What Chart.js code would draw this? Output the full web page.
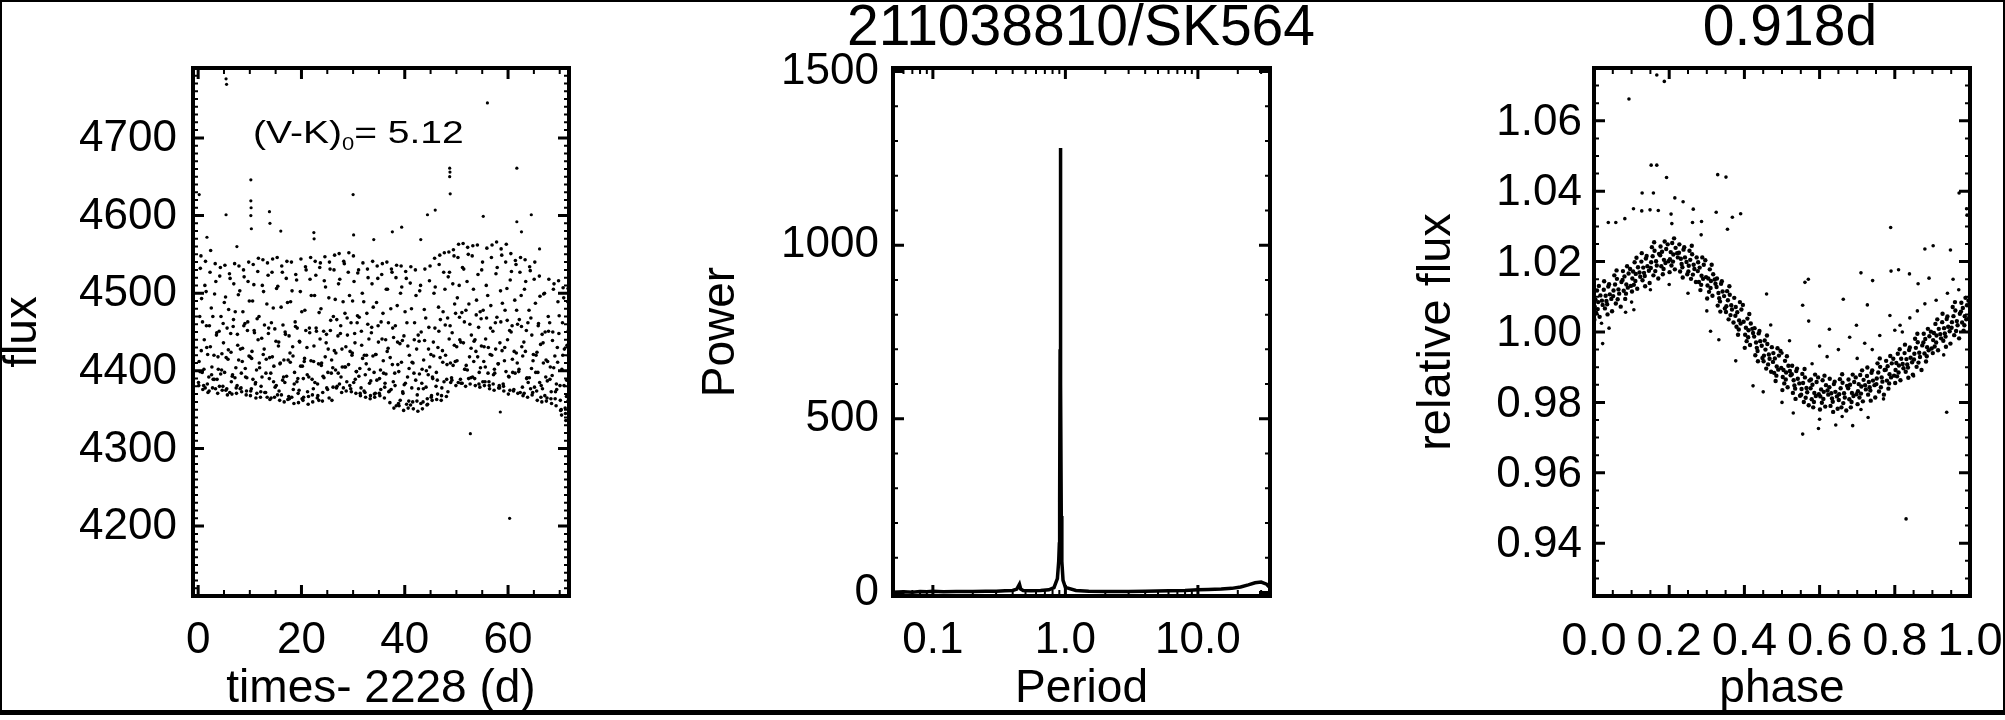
<!DOCTYPE html>
<html lang="en">
<head>
<meta charset="UTF-8" />
<title>211038810/SK564</title>
<script src="https://cdn.jsdelivr.net/npm/chart.js"></script>
<style>
  body { margin: 0; background: #fff; }
  #fig {
    position: relative;
    width: 2005px;
    height: 720px;
    overflow: hidden;
    background: #fff;
    font-family: "Liberation Sans", Arial, Helvetica, sans-serif;
    color: #000;
  }
  #fig canvas { position: absolute; top: 0; }
  .ptitle {
    position: absolute;
    top: -3px;
    font-size: 57px;
    line-height: 1;
    white-space: nowrap;
    transform: translateX(-50%);
  }
  #vk {
    position: absolute; left: 253px; top: 116px;
    font-size: 32px; line-height: 1; white-space: nowrap;
    transform: scaleX(1.22); transform-origin: left top;
  }
  #vk sub { font-size: 18px; vertical-align: -7px; }
  #edge {
    position: absolute; left: 0; top: 0;
    width: 2001px; height: 708px;
    border-style: solid; border-color: #000;
    border-width: 2px 2px 5px 2px;
    pointer-events: none;
  }
</style>
</head>
<body>
<div id="fig">
  <canvas id="lcChart" width="668" height="720" style="left:0;width:668px;height:720px"></canvas>
  <canvas id="pgChart" width="668" height="720" style="left:668px;width:668px;height:720px"></canvas>
  <canvas id="phChart" width="700" height="720" style="left:1336px;width:700px;height:720px"></canvas>
  <div class="ptitle" style="left:1081px">211038810/SK564</div>
  <div class="ptitle" style="left:1790px">0.918d</div>
  <div id="vk">(V-K)<sub>0</sub>= 5.12</div>
  <div id="edge"></div>
</div>

<script>
// ---- light curve (left panel): time - 2228 (d), flux ----
const lcTime = [
  0.06,0.18,0.30,0.42,0.54,0.66,0.78,0.90, 1.06,1.18,1.30,1.42,1.54,1.66,1.78,1.90,
  2.06,2.18,2.30,2.42,2.54,2.66,2.78,2.90, 3.06,3.18,3.30,3.42,3.54,3.66,3.78,3.90,
  4.06,4.18,4.30,4.42,4.54,4.66,4.78,4.90, 5.06,5.18,5.30,5.42,5.54,5.66,5.78,5.90,
  6.06,6.18,6.30,6.42,6.54,6.66,6.78,6.90, 7.06,7.18,7.30,7.42,7.54,7.66,7.78,7.90,
  8.06,8.18,8.30,8.42,8.54,8.66,8.78,8.90, 9.06,9.18,9.30,9.42,9.54,9.66,9.78,9.90,
  10.06,10.18,10.30,10.42,10.54,10.66,10.78,10.90, 11.06,11.18,11.30,11.42,11.54,11.66,11.78,11.90,
  12.06,12.18,12.30,12.42,12.54,12.66,12.78,12.90, 13.06,13.18,13.30,13.42,13.54,13.66,13.78,13.90,
  14.06,14.18,14.30,14.42,14.54,14.66,14.78,14.90, 15.06,15.18,15.30,15.42,15.54,15.66,15.78,15.90,
  16.06,16.18,16.30,16.42,16.54,16.66,16.78,16.90, 17.06,17.18,17.30,17.42,17.54,17.66,17.78,17.90,
  18.06,18.18,18.30,18.42,18.54,18.66,18.78,18.90, 19.06,19.18,19.30,19.42,19.54,19.66,19.78,19.90,
  20.06,20.18,20.30,20.42,20.54,20.66,20.78,20.90, 21.06,21.18,21.30,21.42,21.54,21.66,21.78,21.90,
  22.06,22.18,22.30,22.42,22.54,22.66,22.78,22.90, 23.06,23.18,23.30,23.42,23.54,23.66,23.78,23.90,
  24.06,24.18,24.30,24.42,24.54,24.66,24.78,24.90, 25.06,25.18,25.30,25.42,25.54,25.66,25.78,25.90,
  26.06,26.18,26.30,26.42,26.54,26.66,26.78,26.90, 27.06,27.18,27.30,27.42,27.54,27.66,27.78,27.90,
  28.06,28.18,28.30,28.42,28.54,28.66,28.78,28.90, 29.06,29.18,29.30,29.42,29.54,29.66,29.78,29.90,
  30.06,30.18,30.30,30.42,30.54,30.66,30.78,30.90, 31.06,31.18,31.30,31.42,31.54,31.66,31.78,31.90,
  32.06,32.18,32.30,32.42,32.54,32.66,32.78,32.90, 33.06,33.18,33.30,33.42,33.54,33.66,33.78,33.90,
  34.06,34.18,34.30,34.42,34.54,34.66,34.78,34.90, 35.06,35.18,35.30,35.42,35.54,35.66,35.78,35.90,
  36.06,36.18,36.30,36.42,36.54,36.66,36.78,36.90, 37.06,37.18,37.30,37.42,37.54,37.66,37.78,37.90,
  38.06,38.18,38.30,38.42,38.54,38.66,38.78,38.90, 39.06,39.18,39.30,39.42,39.54,39.66,39.78,39.90,
  40.06,40.18,40.30,40.42,40.54,40.66,40.78,40.90, 41.06,41.18,41.30,41.42,41.54,41.66,41.78,41.90,
  42.06,42.18,42.30,42.42,42.54,42.66,42.78,42.90, 43.06,43.18,43.30,43.42,43.54,43.66,43.78,43.90,
  44.06,44.18,44.30,44.42,44.54,44.66,44.78,44.90, 45.06,45.18,45.30,45.42,45.54,45.66,45.78,45.90,
  46.06,46.18,46.30,46.42,46.54,46.66,46.78,46.90, 47.06,47.18,47.30,47.42,47.54,47.66,47.78,47.90,
  48.06,48.18,48.30,48.42,48.54,48.66,48.78,48.90, 49.06,49.18,49.30,49.42,49.54,49.66,49.78,49.90,
  50.06,50.18,50.30,50.42,50.54,50.66,50.78,50.90, 51.06,51.18,51.30,51.42,51.54,51.66,51.78,51.90,
  52.06,52.18,52.30,52.42,52.54,52.66,52.78,52.90, 53.06,53.18,53.30,53.42,53.54,53.66,53.78,53.90,
  54.06,54.18,54.30,54.42,54.54,54.66,54.78,54.90, 55.06,55.18,55.30,55.42,55.54,55.66,55.78,55.90,
  56.06,56.18,56.30,56.42,56.54,56.66,56.78,56.90, 57.06,57.18,57.30,57.42,57.54,57.66,57.78,57.90,
  58.06,58.18,58.30,58.42,58.54,58.66,58.78,58.90, 59.06,59.18,59.30,59.42,59.54,59.66,59.78,59.90,
  60.06,60.18,60.30,60.42,60.54,60.66,60.78,60.90, 61.06,61.18,61.30,61.42,61.54,61.66,61.78,61.90,
  62.06,62.18,62.30,62.42,62.54,62.66,62.78,62.90, 63.06,63.18,63.30,63.42,63.54,63.66,63.78,63.90,
  64.06,64.18,64.30,64.42,64.54,64.66,64.78,64.90, 65.06,65.18,65.30,65.42,65.54,65.66,65.78,65.90,
  66.06,66.18,66.30,66.42,66.54,66.66,66.78,66.90, 67.06,67.18,67.30,67.42,67.54,67.66,67.78,67.90,
  68.06,68.18,68.30,68.42,68.54,68.66,68.78,68.90, 69.06,69.18,69.30,69.42,69.54,69.66,69.78,69.90,
  70.06,70.18,70.30,70.42,70.54,70.66,70.78,70.90, 71.06,71.18,71.30,71.42,71.54,71.62,71.68,71.74
];
const lcFlux = [
  4385,4412,4470,4532,4548,4493,4398,4376, 4381,4440,4510,4541,4502,4430,4383,4372,
  4392,4458,4527,4555,4481,4405,4378,4389, 4420,4499,4538,4515,4446,4389,4371,4402,
  4451,4522,4533,4470,4401,4375,4380,4436, 4488,4536,4495,4417,4377,4369,4415,4479,
  4525,4519,4448,4386,4370,4395,4457,4512, 4538,4476,4404,4371,4381,4433,4498,4535,
  4503,4428,4378,4373,4412,4476,4530,4521, 4461,4392,4369,4391,4452,4515,4540,4490,
  4418,4374,4377,4425,4490,4537,4511,4449, 4383,4365,4401,4467,4528,4545,4470,4404,
  4366,4380,4442,4510,4543,4502,4428,4372, 4372,4415,4486,4539,4523,4455,4390,4363,
  4397,4462,4527,4544,4481,4406,4366,4379, 4438,4506,4546,4509,4432,4374,4362,4410,
  4482,4535,4527,4459,4392,4360,4385,4447, 4519,4541,4488,4414,4367,4364,4423,4489,
  4540,4503,4431,4376,4358,4398,4463,4524, 4517,4455,4390,4359,4375,4437,4502,4544,
  4476,4406,4362,4366,4412,4478,4534,4530, 4430,4373,4357,4392,4455,4518,4546,4497,
  4389,4360,4377,4432,4497,4541,4523,4451, 4365,4368,4409,4475,4533,4539,4480,4410,
  4361,4393,4451,4516,4547,4508,4436,4378, 4376,4428,4494,4540,4531,4465,4397,4362,
  4404,4470,4530,4549,4492,4423,4378,4380, 4445,4512,4551,4518,4448,4392,4372,4405,
  4489,4541,4538,4474,4405,4374,4386,4446, 4527,4552,4497,4425,4377,4373,4420,4490,
  4548,4515,4448,4389,4371,4399,4462,4526, 4530,4469,4403,4368,4378,4433,4500,4539,
  4489,4420,4372,4366,4409,4474,4531,4520, 4441,4384,4364,4387,4449,4512,4541,4482,
  4398,4366,4371,4421,4488,4535,4519,4437, 4371,4368,4401,4463,4524,4538,4474,4397,
  4365,4384,4440,4505,4540,4505,4429,4373, 4374,4417,4480,4531,4527,4455,4386,4352,
  4397,4458,4520,4536,4484,4408,4358,4355, 4435,4500,4535,4508,4439,4371,4349,4382,
  4476,4528,4519,4462,4392,4352,4361,4420, 4513,4534,4480,4411,4360,4351,4397,4462,
  4530,4497,4428,4369,4348,4377,4438,4503, 4510,4450,4384,4351,4360,4414,4479,4531,
  4468,4400,4356,4357,4395,4456,4516,4535, 4421,4368,4362,4390,4437,4500,4545,4508,
  4380,4363,4388,4430,4482,4537,4549,4466, 4362,4378,4426,4476,4527,4552,4505,4420,
  4367,4408,4468,4521,4553,4527,4458,4385, 4391,4449,4512,4556,4548,4486,4412,4381,
  4431,4494,4546,4563,4510,4440,4389,4384, 4475,4533,4564,4531,4463,4402,4380,4407,
  4515,4559,4550,4486,4418,4383,4391,4446, 4548,4561,4505,4438,4390,4381,4425,4491,
  4562,4524,4456,4398,4379,4404,4467,4530, 4540,4478,4412,4381,4386,4441,4510,4558,
  4497,4430,4386,4377,4421,4484,4546,4562, 4451,4395,4375,4397,4462,4525,4566,4533,
  4409,4378,4381,4436,4503,4557,4549,4487, 4383,4374,4413,4478,4540,4563,4506,4440,
  4370,4392,4452,4517,4551,4528,4458,4398, 4374,4425,4491,4542,4537,4478,4410,4371,
  4399,4466,4527,4546,4497,4431,4379,4368, 4437,4505,4543,4515,4452,4391,4366,4385,
  4478,4534,4529,4468,4403,4369,4372,4421, 4518,4540,4487,4420,4374,4362,4398,4461,
  4522,4496,4434,4381,4360,4377,4436,4499, 4500,4450,4392,4361,4365,4412,4470,4518,
  4462,4405,4364,4358,4394,4450,4505,4512, 4419,4373,4355,4376,4430,4489,4516,4471,
  4381,4349,4350,4402,4462,4507,4494,4428, 4352,4336,4367,4433,4489,4506,4452,4381
];
// extra samples in the lower, denser half of the band
const lcLowTime = [
  0.12,0.36,0.60,0.84, 1.12,1.36,1.60,1.84, 2.12,2.36,2.60,2.84, 3.12,3.36,3.60,3.84,
  4.12,4.36,4.60,4.84, 5.12,5.36,5.60,5.84, 6.12,6.36,6.60,6.84, 7.12,7.36,7.60,7.84,
  8.12,8.36,8.60,8.84, 9.12,9.36,9.60,9.84, 10.12,10.36,10.60,10.84, 11.12,11.36,11.60,11.84,
  12.12,12.36,12.60,12.84, 13.12,13.36,13.60,13.84, 14.12,14.36,14.60,14.84, 15.12,15.36,15.60,15.84,
  16.12,16.36,16.60,16.84, 17.12,17.36,17.60,17.84, 18.12,18.36,18.60,18.84, 19.12,19.36,19.60,19.84,
  20.12,20.36,20.60,20.84, 21.12,21.36,21.60,21.84, 22.12,22.36,22.60,22.84, 23.12,23.36,23.60,23.84,
  24.12,24.36,24.60,24.84, 25.12,25.36,25.60,25.84, 26.12,26.36,26.60,26.84, 27.12,27.36,27.60,27.84,
  28.12,28.36,28.60,28.84, 29.12,29.36,29.60,29.84, 30.12,30.36,30.60,30.84, 31.12,31.36,31.60,31.84,
  32.12,32.36,32.60,32.84, 33.12,33.36,33.60,33.84, 34.12,34.36,34.60,34.84, 35.12,35.36,35.60,35.84,
  36.12,36.36,36.60,36.84, 37.12,37.36,37.60,37.84, 38.12,38.36,38.60,38.84, 39.12,39.36,39.60,39.84,
  40.12,40.36,40.60,40.84, 41.12,41.36,41.60,41.84, 42.12,42.36,42.60,42.84, 43.12,43.36,43.60,43.84,
  44.12,44.36,44.60,44.84, 45.12,45.36,45.60,45.84, 46.12,46.36,46.60,46.84, 47.12,47.36,47.60,47.84,
  48.12,48.36,48.60,48.84, 49.12,49.36,49.60,49.84, 50.12,50.36,50.60,50.84, 51.12,51.36,51.60,51.84,
  52.12,52.36,52.60,52.84, 53.12,53.36,53.60,53.84, 54.12,54.36,54.60,54.84, 55.12,55.36,55.60,55.84,
  56.12,56.36,56.60,56.84, 57.12,57.36,57.60,57.84, 58.12,58.36,58.60,58.84, 59.12,59.36,59.60,59.84,
  60.12,60.36,60.60,60.84, 61.12,61.36,61.60,61.84, 62.12,62.36,62.60,62.84, 63.12,63.36,63.60,63.84,
  64.12,64.36,64.60,64.84, 65.12,65.36,65.60,65.84, 66.12,66.36,66.60,66.84, 67.12,67.36,67.60,67.84,
  68.12,68.36,68.60,68.84, 69.12,69.36,69.60,69.84, 70.12,70.36,70.60,70.84, 71.12,71.36,71.60,71.70
];
const lcLowFlux = [
  4381,4399,4426,4463, 4402,4378,4458,4421, 4374,4431,4395,4470, 4389,4377,4449,4418,
  4380,4396,4422,4461, 4398,4375,4455,4427, 4372,4424,4393,4466, 4391,4378,4447,4414,
  4377,4397,4429,4458, 4403,4374,4463,4419, 4368,4416,4389,4452, 4385,4371,4440,4410,
  4373,4392,4421,4459, 4397,4366,4448,4417, 4365,4418,4386,4454, 4381,4369,4437,4409,
  4369,4388,4414,4450, 4393,4363,4445,4411, 4366,4419,4383,4457, 4386,4371,4438,4406,
  4364,4390,4416,4452, 4395,4367,4449,4413, 4369,4412,4385,4455, 4383,4362,4441,4407,
  4372,4391,4418,4447, 4398,4365,4452,4414, 4379,4426,4401,4466, 4397,4383,4458,4428,
  4378,4405,4431,4468, 4408,4381,4462,4423, 4385,4436,4399,4471, 4393,4371,4451,4416,
  4374,4395,4420,4460, 4402,4368,4456,4419, 4370,4421,4388,4458, 4390,4376,4441,4413,
  4379,4396,4425,4462, 4359,4376,4408,4443, 4381,4355,4437,4399, 4362,4411,4373,4445,
  4384,4357,4432,4403, 4356,4378,4410,4440, 4388,4361,4446,4396, 4358,4402,4377,4439,
  4379,4364,4428,4405, 4366,4392,4419,4455, 4398,4370,4451,4417, 4368,4411,4386,4459,
  4389,4373,4441,4410, 4388,4407,4433,4474, 4413,4385,4469,4437, 4384,4436,4402,4478,
  4401,4390,4460,4429, 4392,4412,4440,4472, 4418,4383,4476,4432, 4386,4431,4405,4468,
  4397,4381,4455,4420, 4383,4402,4428,4469, 4409,4378,4463,4426, 4380,4430,4399,4465,
  4393,4375,4450,4415, 4376,4397,4423,4460, 4402,4372,4457,4419, 4371,4425,4390,4462,
  4391,4377,4446,4413, 4379,4398,4424,4458, 4385,4366,4447,4410, 4368,4414,4387,4451,
  4389,4373,4439,4404, 4364,4383,4411,4448, 4362,4343,4420,4381, 4345,4388,4361,4419
];
// isolated points off the main band
const lcOddTime = [0.2,1.7,5.4,5.5,5.4,7.5,10.2,10.2,10.25,10.2,10.3,13.8,13.9,16.0,22.4,22.45,30.0,30.1,34.0,37.6,
  39.4,43.1,44.4,45.9,48.7,48.75,48.7,48.8,52.7,55.2,56.0,58.5,60.3,61.7,61.7,62.6,64.5,66.1];
const lcOddFlux = [4627,4572,4776,4769,4601,4560,4646,4619,4610,4600,4583,4605,4590,4580,4578,4570,4627,4575,4569,4579,
  4585,4569,4601,4607,4661,4656,4650,4628,4319,4599,4745,4347,4210,4661,4592,4579,4601,4557];

// ---- periodogram (middle panel) ----
const pgPeriod = [0.05,0.06,0.07,0.08,0.09,0.10,0.12,0.15,0.20,0.25,0.30,0.35,0.40,0.43,0.45,0.46,0.48,0.55,0.65,0.75,
  0.82,0.87,0.89,0.90,0.905,0.912,0.916,0.918,0.920,0.924,0.931,0.94,0.96,1.0,1.2,1.5,2,3,4,6,
  8,10,12,15,18,21,24,27,30,33,35];
const pgPower = [1,2,1,3,2,4,2,3,3,4,4,5,6,10,24,10,6,5,6,8,
  14,40,90,140,260,700,1180,1280,1150,600,220,90,35,15,6,4,3,3,4,5,
  6,8,9,10,12,16,22,28,30,24,14];

// ---- phase-folded light curve (right panel) ----
const phPhase = [
  0.001,0.004,0.002,0.008,0.006,0.011,0.013,0.010,0.017,0.015,0.021,0.023,
  0.026,0.029,0.027,0.033,0.031,0.036,0.038,0.035,0.042,0.040,0.046,0.048,
  0.051,0.054,0.052,0.058,0.056,0.061,0.063,0.060,0.067,0.065,0.071,0.073,
  0.076,0.079,0.077,0.083,0.081,0.086,0.088,0.085,0.092,0.090,0.096,0.098,
  0.101,0.104,0.102,0.108,0.106,0.111,0.113,0.110,0.117,0.115,0.121,0.123,
  0.126,0.129,0.127,0.133,0.131,0.136,0.138,0.135,0.142,0.140,0.146,0.148,
  0.151,0.154,0.152,0.158,0.156,0.161,0.163,0.160,0.167,0.165,0.171,0.173,
  0.176,0.179,0.177,0.183,0.181,0.186,0.188,0.185,0.192,0.190,0.196,0.198,
  0.201,0.204,0.202,0.208,0.206,0.211,0.213,0.210,0.217,0.215,0.221,0.223,
  0.226,0.229,0.227,0.233,0.231,0.236,0.238,0.235,0.242,0.240,0.246,0.248,
  0.251,0.254,0.252,0.258,0.256,0.261,0.263,0.260,0.267,0.265,0.271,0.273,
  0.276,0.279,0.277,0.283,0.281,0.286,0.288,0.285,0.292,0.290,0.296,0.298,
  0.301,0.304,0.302,0.308,0.306,0.311,0.313,0.310,0.317,0.315,0.321,0.323,
  0.326,0.329,0.327,0.333,0.331,0.336,0.338,0.335,0.342,0.340,0.346,0.348,
  0.351,0.354,0.352,0.358,0.356,0.361,0.363,0.360,0.367,0.365,0.371,0.373,
  0.376,0.379,0.377,0.383,0.381,0.386,0.388,0.385,0.392,0.390,0.396,0.398,
  0.401,0.404,0.402,0.408,0.406,0.411,0.413,0.410,0.417,0.415,0.421,0.423,
  0.426,0.429,0.427,0.433,0.431,0.436,0.438,0.435,0.442,0.440,0.446,0.448,
  0.451,0.454,0.452,0.458,0.456,0.461,0.463,0.460,0.467,0.465,0.471,0.473,
  0.476,0.479,0.477,0.483,0.481,0.486,0.488,0.485,0.492,0.490,0.496,0.498,
  0.501,0.504,0.502,0.508,0.506,0.511,0.513,0.510,0.517,0.515,0.521,0.523,
  0.526,0.529,0.527,0.533,0.531,0.536,0.538,0.535,0.542,0.540,0.546,0.548,
  0.551,0.554,0.552,0.558,0.556,0.561,0.563,0.560,0.567,0.565,0.571,0.573,
  0.576,0.579,0.577,0.583,0.581,0.586,0.588,0.585,0.592,0.590,0.596,0.598,
  0.601,0.604,0.602,0.608,0.606,0.611,0.613,0.610,0.617,0.615,0.621,0.623,
  0.626,0.629,0.627,0.633,0.631,0.636,0.638,0.635,0.642,0.640,0.646,0.648,
  0.651,0.654,0.652,0.658,0.656,0.661,0.663,0.660,0.667,0.665,0.671,0.673,
  0.676,0.679,0.677,0.683,0.681,0.686,0.688,0.685,0.692,0.690,0.696,0.698,
  0.701,0.704,0.702,0.708,0.706,0.711,0.713,0.710,0.717,0.715,0.721,0.723,
  0.726,0.729,0.727,0.733,0.731,0.736,0.738,0.735,0.742,0.740,0.746,0.748,
  0.751,0.754,0.752,0.758,0.756,0.761,0.763,0.760,0.767,0.765,0.771,0.773,
  0.776,0.779,0.777,0.783,0.781,0.786,0.788,0.785,0.792,0.790,0.796,0.798,
  0.801,0.804,0.802,0.808,0.806,0.811,0.813,0.810,0.817,0.815,0.821,0.823,
  0.826,0.829,0.827,0.833,0.831,0.836,0.838,0.835,0.842,0.840,0.846,0.848,
  0.851,0.854,0.852,0.858,0.856,0.861,0.863,0.860,0.867,0.865,0.871,0.873,
  0.876,0.879,0.877,0.883,0.881,0.886,0.888,0.885,0.892,0.890,0.896,0.898,
  0.901,0.904,0.902,0.908,0.906,0.911,0.913,0.910,0.917,0.915,0.921,0.923,
  0.926,0.929,0.927,0.933,0.931,0.936,0.938,0.935,0.942,0.940,0.946,0.948,
  0.951,0.954,0.952,0.958,0.956,0.961,0.963,0.960,0.967,0.965,0.971,0.973,
  0.976,0.979,0.977,0.983,0.981,0.986,0.988,0.985,0.992,0.990,0.996,0.998
];
const phFlux = [
  1.0035,1.0092,1.0072,1.0118,1.0054,1.0085,1.0131,1.0065,1.0104,1.0043,1.0089,1.0077,
  1.0120,1.0067,1.0144,1.0088,1.0103,1.0050,1.0129,1.0079,1.0107,1.0136,1.0094,1.0059,
  1.0102,1.0161,1.0118,1.0081,1.0135,1.0151,1.0093,1.0175,1.0109,1.0121,1.0072,1.0142,
  1.0148,1.0117,1.0173,1.0094,1.0158,1.0135,1.0187,1.0109,1.0166,1.0126,1.0179,1.0131,
  1.0115,1.0172,1.0152,1.0198,1.0134,1.0165,1.0211,1.0145,1.0184,1.0123,1.0169,1.0157,
  1.0200,1.0147,1.0224,1.0168,1.0183,1.0130,1.0209,1.0159,1.0187,1.0216,1.0174,1.0139,
  1.0182,1.0241,1.0198,1.0161,1.0215,1.0231,1.0173,1.0255,1.0189,1.0201,1.0152,1.0222,
  1.0218,1.0187,1.0243,1.0164,1.0228,1.0205,1.0257,1.0179,1.0236,1.0196,1.0249,1.0201,
  1.0170,1.0227,1.0207,1.0253,1.0189,1.0220,1.0266,1.0200,1.0239,1.0178,1.0224,1.0212,
  1.0225,1.0172,1.0249,1.0193,1.0208,1.0155,1.0234,1.0184,1.0212,1.0241,1.0199,1.0164,
  1.0172,1.0231,1.0188,1.0151,1.0205,1.0221,1.0163,1.0245,1.0179,1.0191,1.0142,1.0212,
  1.0173,1.0142,1.0198,1.0119,1.0183,1.0160,1.0212,1.0134,1.0191,1.0151,1.0204,1.0156,
  1.0095,1.0152,1.0132,1.0178,1.0114,1.0145,1.0191,1.0125,1.0164,1.0103,1.0149,1.0137,
  1.0128,1.0075,1.0152,1.0096,1.0111,1.0058,1.0137,1.0087,1.0115,1.0144,1.0102,1.0067,
  1.0057,1.0116,1.0073,1.0036,1.0090,1.0106,1.0048,1.0130,1.0064,1.0076,1.0027,1.0097,
  1.0046,1.0015,1.0071,0.9992,1.0056,1.0033,1.0085,1.0007,1.0064,1.0024,1.0077,1.0029,
  0.9955,1.0012,0.9992,1.0038,0.9974,1.0005,1.0051,0.9985,1.0024,0.9963,1.0009,0.9997,
  0.9987,0.9934,1.0011,0.9955,0.9970,0.9917,0.9996,0.9946,0.9974,1.0003,0.9961,0.9926,
  0.9917,0.9976,0.9933,0.9896,0.9950,0.9966,0.9908,0.9990,0.9924,0.9936,0.9887,0.9957,
  0.9915,0.9884,0.9940,0.9861,0.9925,0.9902,0.9954,0.9876,0.9933,0.9893,0.9946,0.9898,
  0.9835,0.9892,0.9872,0.9918,0.9854,0.9885,0.9931,0.9865,0.9904,0.9843,0.9889,0.9877,
  0.9880,0.9827,0.9904,0.9848,0.9863,0.9810,0.9889,0.9839,0.9867,0.9896,0.9854,0.9819,
  0.9822,0.9881,0.9838,0.9801,0.9855,0.9871,0.9813,0.9895,0.9829,0.9841,0.9792,0.9862,
  0.9840,0.9809,0.9865,0.9786,0.9850,0.9827,0.9879,0.9801,0.9858,0.9818,0.9871,0.9823,
  0.9780,0.9837,0.9817,0.9863,0.9799,0.9830,0.9876,0.9810,0.9849,0.9788,0.9834,0.9822,
  0.9843,0.9790,0.9867,0.9811,0.9826,0.9773,0.9852,0.9802,0.9830,0.9859,0.9817,0.9782,
  0.9807,0.9866,0.9823,0.9786,0.9840,0.9856,0.9798,0.9880,0.9814,0.9826,0.9777,0.9847,
  0.9840,0.9809,0.9865,0.9786,0.9850,0.9827,0.9879,0.9801,0.9858,0.9818,0.9871,0.9823,
  0.9795,0.9852,0.9832,0.9878,0.9814,0.9845,0.9891,0.9825,0.9864,0.9803,0.9849,0.9837,
  0.9875,0.9822,0.9899,0.9843,0.9858,0.9805,0.9884,0.9834,0.9862,0.9891,0.9849,0.9814,
  0.9852,0.9911,0.9868,0.9831,0.9885,0.9901,0.9843,0.9925,0.9859,0.9871,0.9822,0.9892,
  0.9893,0.9862,0.9918,0.9839,0.9903,0.9880,0.9932,0.9854,0.9911,0.9871,0.9924,0.9876,
  0.9855,0.9912,0.9892,0.9938,0.9874,0.9905,0.9951,0.9885,0.9924,0.9863,0.9909,0.9897,
  0.9940,0.9887,0.9964,0.9908,0.9923,0.9870,0.9949,0.9899,0.9927,0.9956,0.9914,0.9879,
  0.9922,0.9981,0.9938,0.9901,0.9955,0.9971,0.9913,0.9995,0.9929,0.9941,0.9892,0.9962,
  0.9970,0.9939,0.9995,0.9916,0.9980,0.9957,1.0009,0.9931,0.9988,0.9948,1.0001,0.9953,
  0.9940,0.9997,0.9977,1.0023,0.9959,0.9990,1.0036,0.9970,1.0009,0.9948,0.9994,0.9982,
  1.0028,0.9975,1.0052,0.9996,1.0011,0.9958,1.0037,0.9987,1.0015,1.0044,1.0002,0.9967,
  1.0012,1.0071,1.0028,0.9991,1.0045,1.0061,1.0003,1.0085,1.0019,1.0031,0.9982,1.0052,
  1.0058,1.0027,1.0083,1.0004,1.0068,1.0045,1.0097,1.0019,1.0076,1.0036,1.0089,1.0041
];
// scattered points around and away from the folded curve
const phOddPhase = [0.167,0.187,0.093,0.152,0.167,0.193,0.329,0.351,0.128,0.158,0.215,0.237,0.105,0.127,0.149,0.171,0.264,0.325,0.368,0.390,
  0.038,0.058,0.082,0.205,0.207,0.262,0.286,0.789,0.355,0.285,0.971,0.991,0.992,0.880,0.902,0.948,0.790,0.810,0.710,0.570,
  0.561,0.891,0.862,0.955,0.741,0.839,0.459,0.555,0.663,0.727,0.571,0.626,0.698,0.787,0.814,0.938,0.555,0.597,0.643,0.688,
  0.729,0.423,0.377,0.332,0.310,0.040,0.023,0.106,0.084,0.830,
  0.52,0.60,0.65,0.68,0.72,0.76,0.80,0.84,0.86,0.88,0.91,0.94,0.97,0.47,0.50,0.58,0.62,0.70,0.74,0.82,
  0.45,0.50,0.53,0.60,0.66,0.71,0.77,0.85,0.93,0.20,0.15,0.10,0.25,0.30,0.02];
const phOddFlux = [1.0730,1.0712,1.0662,1.0474,1.0474,1.0439,1.0447,1.0440,1.0395,1.0395,1.0381,1.0370,1.0350,1.0344,1.0347,1.0345,1.0349,1.0340,1.0326,1.0336,
  1.0311,1.0311,1.0322,1.0335,1.0308,1.0311,1.0314,1.0297,1.0292,1.0276,1.0395,1.0350,1.0332,1.0236,1.0245,1.0233,1.0173,1.0177,1.0168,1.0150,
  1.0141,1.0153,1.0137,1.0150,1.0146,1.0165,1.0108,1.0076,1.0093,1.0077,1.0031,1.0008,1.0019,1.0047,1.0019,0.9772,0.9710,0.9726,0.9736,0.9734,
  0.9757,0.9847,0.9918,0.9978,1.0002,1.0011,0.9967,1.0063,1.0056,0.9469,
  0.9975,0.9960,0.9950,0.9985,0.9968,0.9990,1.0005,1.0040,1.0060,1.0080,1.0090,1.0110,1.0120,1.0020,0.9940,0.9910,0.9930,0.9925,0.9950,1.0000,
  0.9830,0.9800,0.9770,0.9752,0.9760,0.9780,0.9810,0.9875,0.9935,1.0135,1.0120,1.0085,1.0110,1.0060,1.0025];

// ---- axis ticks ----
const lcXTicks = [0, 20, 40, 60];
const lcYTicks = [4200, 4300, 4400, 4500, 4600, 4700];
const pgXTicks = [0.1, 1, 10];
const pgYTicks = [0, 500, 1000, 1500];
const phXTicks = [0, 0.2, 0.4, 0.6, 0.8, 1.0];
const phYTicks = [0.94, 0.96, 0.98, 1.00, 1.02, 1.04, 1.06];

const FONT = "'Liberation Sans', Arial, Helvetica, sans-serif";
Chart.defaults.font.family = FONT;
Chart.defaults.color = '#000';

function steps(from, to, step, skip) {
  const out = [];
  for (let v = from; v <= to + step / 1000; v += step) {
    const r = Math.round(v * 10000) / 10000;
    if (!skip.some(s => Math.abs(s - r) < step / 100)) out.push(r);
  }
  return out;
}
function logMinor(lo, hi) {
  const out = [];
  for (let d = 0.01; d <= 10; d *= 10) {
    for (let k = 2; k <= 9; k++) {
      const v = k * d;
      if (v >= lo && v <= hi) out.push(v);
    }
  }
  return out;
}

// IDL style: thick box with inward ticks on all four sides
const idlFrame = {
  id: 'idlFrame',
  afterDatasetsDraw(chart, args, o) {
    const { ctx, chartArea: a, scales: { x, y } } = chart;
    const marks = (sc, vals, len) => {
      vals.forEach(v => {
        const p = sc.getPixelForValue(v);
        if (sc.isHorizontal()) {
          ctx.moveTo(p, a.bottom); ctx.lineTo(p, a.bottom - len);
          ctx.moveTo(p, a.top); ctx.lineTo(p, a.top + len);
        } else {
          ctx.moveTo(a.left, p); ctx.lineTo(a.left + len, p);
          ctx.moveTo(a.right, p); ctx.lineTo(a.right - len, p);
        }
      });
    };
    ctx.save();
    ctx.strokeStyle = '#000';
    ctx.lineWidth = 3;
    ctx.beginPath();
    marks(x, o.xMajor, 11);
    marks(y, o.yMajor, 11);
    ctx.stroke();
    ctx.lineWidth = 2;
    ctx.beginPath();
    marks(x, o.xMinor, 6);
    marks(y, o.yMinor, 5);
    ctx.stroke();
    ctx.lineWidth = 4;
    ctx.strokeRect(a.left, a.top, a.right - a.left, a.bottom - a.top);
    ctx.restore();
  }
};
Chart.register(idlFrame);

function axis(o) {
  return {
    type: o.type || 'linear',
    position: o.position,
    min: o.min,
    max: o.max,
    grid: { display: false, drawTicks: false },
    border: { display: false },
    ticks: {
      color: '#000',
      font: { family: FONT, size: o.tickSize || 44 },
      padding: o.pad,
      labelOffset: o.labelOffset || 0,
      autoSkip: false,
      maxRotation: 0,
      callback: o.fmt
    },
    afterBuildTicks: s => { s.ticks = o.ticks.map(v => ({ value: v })); },
    afterFit: s => {
      if (o.width != null) s.width = o.width;
      if (o.height != null) s.height = o.height;
    },
    title: {
      display: true,
      text: o.title,
      color: '#000',
      font: { family: FONT, size: o.titleSize || 46, lineHeight: 1 },
      padding: o.titlePad
    }
  };
}

function baseOptions(padRight, xAxis, yAxis, frame) {
  return {
    responsive: false,
    devicePixelRatio: 1,
    animation: false,
    events: [],
    layout: { padding: { top: 68, right: padRight, left: 0, bottom: 0 } },
    plugins: { legend: { display: false }, tooltip: { enabled: false }, idlFrame: frame },
    scales: { x: xAxis, y: yAxis }
  };
}

const dots = (xs, ys, r) => ({
  data: xs.map((v, i) => ({ x: v, y: ys[i] })),
  pointRadius: r,
  pointBorderWidth: 0,
  pointBackgroundColor: '#000',
  showLine: false
});

// left: light curve
new Chart(document.getElementById('lcChart'), {
  type: 'scatter',
  data: { datasets: [dots(lcTime, lcFlux, 1.8), dots(lcLowTime, lcLowFlux, 1.8), dots(lcOddTime, lcOddFlux, 1.6)] },
  options: baseOptions(99,
    axis({ position: 'bottom', min: -1.0, max: 71.8, ticks: lcXTicks, pad: 18, height: 124,
      fmt: v => String(v), title: 'times- 2228 (d)', titlePad: { top: 0, bottom: 8 } }),
    axis({ position: 'left', min: 4110, max: 4790, ticks: lcYTicks, pad: 16, width: 193, labelOffset: 1,
      fmt: v => String(v), title: 'flux', titlePad: { top: 0, bottom: 0 } }),
    { xMajor: lcXTicks, xMinor: steps(0, 70, 5, lcXTicks), yMajor: lcYTicks, yMinor: steps(4120, 4780, 10, lcYTicks) })
});

// middle: periodogram
new Chart(document.getElementById('pgChart'), {
  type: 'scatter',
  data: {
    datasets: [{
      data: pgPeriod.map((v, i) => ({ x: v, y: pgPower[i] })),
      showLine: true,
      borderColor: '#000',
      borderWidth: 3.5,
      pointRadius: 0,
      tension: 0
    }]
  },
  options: baseOptions(66,
    axis({ type: 'logarithmic', position: 'bottom', min: 0.05, max: 35, ticks: pgXTicks, pad: 18, height: 124,
      fmt: v => Number(v).toFixed(1), title: 'Period', titlePad: { top: 0, bottom: 8 } }),
    axis({ position: 'left', min: -10, max: 1510, ticks: pgYTicks, pad: 14, width: 225,
      fmt: v => String(v), title: 'Power', titlePad: { top: 30, bottom: 0 } }),
    { xMajor: pgXTicks, xMinor: logMinor(0.05, 35), yMajor: pgYTicks, yMinor: steps(100, 1400, 100, pgYTicks) })
});

// right: phase-folded light curve
new Chart(document.getElementById('phChart'), {
  type: 'scatter',
  data: { datasets: [dots(phPhase, phFlux, 2.2), dots(phOddPhase, phOddFlux, 1.8)] },
  options: baseOptions(66,
    axis({ position: 'bottom', min: 0, max: 1, ticks: phXTicks, pad: 18, height: 124, tickSize: 47,
      fmt: v => Number(v).toFixed(1), title: 'phase', titlePad: { top: 0, bottom: 8 } }),
    axis({ position: 'left', min: 0.925, max: 1.075, ticks: phYTicks, pad: 12, width: 258, labelOffset: 2,
      fmt: v => Number(v).toFixed(2), title: 'relative flux', titleSize: 47, titlePad: { top: 78, bottom: 0 } }),
    { xMajor: phXTicks, xMinor: steps(0.05, 0.95, 0.05, phXTicks), yMajor: phYTicks, yMinor: steps(0.93, 1.07, 0.005, phYTicks) })
});
</script>
</body>
</html>
